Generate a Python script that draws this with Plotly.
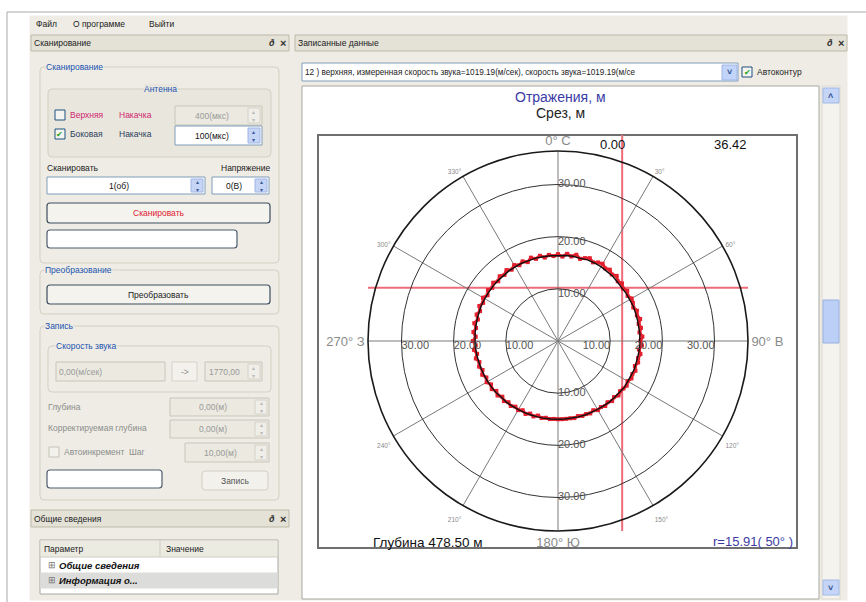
import numpy as np
import plotly.graph_objects as go

# ---------------------------------------------------------------- data
R_MAX = 36.42                      # outer ring of the polar grid, m
RING_VALUES = [10, 20, 30]
RING_LABELS = ["10.00", "20.00", "30.00"]

ANGLE_TICKS = [0, 30, 60, 90, 120, 150, 180, 210, 240, 270, 300, 330]
ANGLE_LABELS = ["0° С", "30°", "60°", "90° В", "120°", "150°",
                "180° Ю", "210°", "240°", "270° З", "300°", "330°"]

# measured reflections, every 3 degrees (clockwise from north)
refl_theta = list(range(0, 360, 3))
refl_r = [16.6, 16.2, 16.8, 16.4, 16.9, 16.3, 16.7, 17.0, 16.5, 16.9,
          17.1, 16.6, 16.9, 16.4, 16.8, 16.2, 16.5, 16.0, 16.4, 15.9,
          16.3, 16.1, 15.8, 16.2, 15.9, 16.3, 15.8, 16.1, 15.7, 16.2,
          15.8, 16.1, 15.6, 16.0, 15.7, 15.9, 15.5, 15.9, 15.6, 15.8,
          15.4, 15.7, 15.5, 15.3, 15.6, 15.2, 15.5, 15.1, 15.4, 15.1,
          15.3, 14.9, 15.2, 15.0, 15.1, 14.9, 15.1, 15.0, 15.0, 15.0,
          15.0, 14.95, 15.05, 14.9, 15.1, 14.8, 15.2, 14.9, 15.3, 14.9,
          15.3, 15.0, 15.4, 15.1, 15.5, 15.1, 15.6, 15.2, 15.7, 15.3,
          15.8, 15.4, 15.9, 15.5, 15.9, 15.6, 16.1, 15.7, 16.2, 15.8,
          16.3, 15.8, 16.3, 15.9, 16.4, 15.9, 16.4, 16.0, 16.5, 16.1,
          16.6, 16.1, 16.6, 16.2, 16.7, 16.2, 16.7, 16.3, 16.8, 16.3,
          16.8, 16.3, 16.7, 16.2, 16.8, 16.3, 16.7, 16.2, 16.6, 16.3]

# contour (slice) traced through the reflections, every 5 degrees
cut_theta = list(range(0, 360, 5))
cut_r = [16.35, 16.45, 16.5, 16.4, 16.55, 16.5, 16.45, 16.3, 16.25, 16.05,
         15.91, 15.95, 15.85, 15.9, 15.8, 15.75, 15.7, 15.75, 15.65, 15.7,
         15.6, 15.55, 15.6, 15.5, 15.45, 15.5, 15.35, 15.3, 15.3, 15.2,
         15.15, 15.1, 15.1, 15.05, 15.0, 15.0, 15.0, 15.0, 15.05, 15.05,
         15.1, 15.15, 15.2, 15.25, 15.35, 15.3, 15.45, 15.5, 15.55, 15.6,
         15.65, 15.7, 15.8, 15.85, 15.9, 15.95, 16.0, 16.05, 16.1, 16.2,
         16.2, 16.25, 16.3, 16.35, 16.3, 16.4, 16.4, 16.45, 16.4, 16.45,
         16.4, 16.4]

CURSOR_EAST = 12.3     # crosshair position, m
CURSOR_NORTH = 10.2
READ_LEFT = "0.00"
READ_RIGHT = "36.42"
DEPTH_TEXT = "Глубина 478.50 м"
PICK_R, PICK_ANGLE = 15.91, 50

# ---------------------------------------------------------------- layout helpers
W, H = 866, 602
CX, CY, RPX = 558, 341, 190            # polar centre and outer radius, px
FX0, FY0, FX1, FY1 = 318, 135, 797, 548  # chart frame, px
K = RPX / R_MAX                         # px per metre

APP_BG = "#eeece4"
UI_FONT = "Liberation Sans, Arial, sans-serif"


def X(p):
    return p / W


def Y(p):
    return 1 - p / H


shapes = []
notes = []


def rect(x0, y0, x1, y1, fill="rgba(0,0,0,0)", line="#999", lw=1):
    shapes.append(dict(type="rect", xref="paper", yref="paper",
                       x0=X(x0), y0=Y(y1), x1=X(x1), y1=Y(y0),
                       fillcolor=fill, line=dict(color=line, width=lw),
                       layer="below"))


def rrect(x0, y0, x1, y1, fill="rgba(0,0,0,0)", line="#999", lw=1, r=3):
    p = (f"M{X(x0 + r)},{Y(y0)} L{X(x1 - r)},{Y(y0)} Q{X(x1)},{Y(y0)} {X(x1)},{Y(y0 + r)} "
         f"L{X(x1)},{Y(y1 - r)} Q{X(x1)},{Y(y1)} {X(x1 - r)},{Y(y1)} "
         f"L{X(x0 + r)},{Y(y1)} Q{X(x0)},{Y(y1)} {X(x0)},{Y(y1 - r)} "
         f"L{X(x0)},{Y(y0 + r)} Q{X(x0)},{Y(y0)} {X(x0 + r)},{Y(y0)} Z")
    shapes.append(dict(type="path", xref="paper", yref="paper", path=p,
                       fillcolor=fill, line=dict(color=line, width=lw),
                       layer="below"))


def hline(x0, x1, y, color="#aaa", lw=1):
    shapes.append(dict(type="line", xref="paper", yref="paper",
                       x0=X(x0), x1=X(x1), y0=Y(y), y1=Y(y),
                       line=dict(color=color, width=lw), layer="below"))


def vline(x, y0, y1, color="#aaa", lw=1):
    shapes.append(dict(type="line", xref="paper", yref="paper",
                       x0=X(x), x1=X(x), y0=Y(y0), y1=Y(y1),
                       line=dict(color=color, width=lw), layer="below"))


def txt(x, y, s, size=9, color="#222", anchor="left", bg=None, family=UI_FONT):
    d = dict(x=X(x), y=Y(y), xref="paper", yref="paper", text=s,
             showarrow=False, xanchor=anchor, yanchor="middle",
             font=dict(size=size, color=color, family=family), borderpad=0)
    if bg:
        d["bgcolor"] = bg
    notes.append(d)


def spin(x0, y0, x1, y1, label, enabled=True, cx=None):
    rect(x0, y0, x1, y1, fill="#ffffff" if enabled else "#ebe9e0",
         line="#7f9db9" if enabled else "#c9c7bb")
    bx0 = x1 - 14
    rect(bx0, y0 + 2, x1 - 2, y1 - 2,
         fill="#c6d5f6" if enabled else "#efeee8",
         line="#9fb6e6" if enabled else "#d4d2c8")
    txt((bx0 + x1 - 2) / 2, (y0 + y1) / 2, "▴<br>▾", size=6,
        color="#3a5a9a" if enabled else "#b8b8b8", anchor="center")
    txt(cx if cx else (x0 + bx0) / 2, (y0 + y1) / 2, label, size=8.5,
        color="#111" if enabled else "#9a9a9a", anchor="center")


def checkbox(x0, y0, checked, enabled=True):
    rect(x0, y0, x0 + 10, y0 + 10, fill="#f4f4f0" if enabled else "#f2f1ec",
         line="#1c5180" if enabled else "#c5c2b5")
    if checked:
        txt(x0 + 5, y0 + 5, "✔", size=8, color="#21a121", anchor="center")


def button(x0, y0, x1, y1, label, color="#222"):
    rrect(x0, y0, x1, y1, fill="#f4f3ee", line="#3d4e60", lw=1.2, r=3)
    txt((x0 + x1) / 2, (y0 + y1) / 2, label, size=8.5, color=color, anchor="center")


def group(x0, y0, x1, y1, title, tx, center=False, fill="rgba(0,0,0,0)"):
    rrect(x0, y0, x1, y1, fill=fill, line="#d3d0c2", lw=1, r=4)
    txt(tx, y0, title, size=8.5, color="#2153b0",
        anchor="center" if center else "left", bg=fill if fill != "rgba(0,0,0,0)" else APP_BG)


def dock_header(x0, x1, y0, y1, title):
    rect(x0, y0, x1, y1, fill="#e4e1d6", line="#bdb9aa")
    txt(x0 + 2, (y0 + y1) / 2, title, size=8.5, color="#222")
    txt(x1 - 17, (y0 + y1) / 2, "<b><i>ð</i></b>", size=9, color="#333", anchor="center")
    txt(x1 - 6, (y0 + y1) / 2, "<b>×</b>", size=11, color="#333", anchor="center")


# ---------------------------------------------------------------- window chrome
vline(7, 12, 602, color="#a9a9a9")
hline(7, 866, 12, color="#a9a9a9")
rect(30, 16, 847, 600, fill=APP_BG, line=APP_BG)

txt(35, 24, "Файл", size=8.5)
txt(72, 24, "О программе", size=8.5)
txt(148, 24, "Выйти", size=8.5)

# left dock: scanning
dock_header(31, 289, 35, 51, "Сканирование")
group(40, 67, 279, 263, "Сканирование", 45)
group(48, 89, 271, 157, "Антенна", 160, center=True, fill="#e9e7dd")
checkbox(55, 110, False)
txt(69, 115, "Верхняя", size=8.5, color="#d0246e")
txt(118, 115, "Накачка", size=8.5, color="#d0246e")
spin(175, 106, 262, 125, "400(мкс)", enabled=False)
checkbox(55, 129, True)
txt(69, 134, "Боковая", size=8.5, color="#2b3d5c")
txt(118, 134, "Накачка", size=8.5, color="#2b3d5c")
spin(175, 126, 262, 145, "100(мкс)")
txt(46, 168, "Сканировать", size=8.5)
txt(272, 168, "Напряжение", size=8.5, anchor="right")
spin(47, 177, 205, 194, "1(об)")
spin(212, 177, 269, 194, "0(В)")
button(47, 203, 270, 223, "Сканировать", color="#e0202e")
rrect(47, 230, 237, 248, fill="#ffffff", line="#4d5d6e", lw=1.2, r=3)

group(40, 270, 279, 314, "Преобразование", 44)
button(47, 285, 270, 304, "Преобразовать")

group(40, 326, 279, 500, "Запись", 44)
group(48, 346, 271, 392, "Скорость звука", 55)
rect(56, 362, 165, 381, fill="#ebe9e0", line="#c9c7bb")
txt(58, 371.5, "0,00(м/сек)", size=8.5, color="#9a9a9a")
rect(172, 362, 197, 381, fill="#f2f1ec", line="#d4d2c8")
txt(184.5, 371.5, "->", size=8.5, color="#8a8a8a", anchor="center")
spin(205, 362, 262, 381, "1770,00", enabled=False, cx=224)
txt(47, 407, "Глубина", size=8.5, color="#8c8c8c")
spin(170, 398, 269, 416, "0,00(м)", enabled=False)
txt(47, 428, "Корректируемая глубина", size=8.5, color="#8c8c8c")
spin(170, 420, 269, 438, "0,00(м)", enabled=False)
checkbox(49, 447, False, enabled=False)
txt(63, 452, "Автоинкремент  Шаг", size=8.5, color="#8c8c8c")
spin(185, 443, 269, 462, "10,00(м)", enabled=False)
rrect(47, 470, 162, 488, fill="#ffffff", line="#4d5d6e", lw=1.2, r=3)
rrect(202, 471, 268, 490, fill="#f2f1ec", line="#d0cec3", lw=1, r=3)
txt(235, 480.5, "Запись", size=8.5, color="#555", anchor="center")

# left dock: general information
dock_header(31, 289, 510, 527, "Общие сведения")
rect(40, 540, 278, 594, fill="#ffffff", line="#a8a8a0")
rect(40, 540, 278, 557, fill="#ecebe2", line="#cfcdc2")
vline(160, 540, 557, color="#cfcdc2")
txt(43, 549, "Параметр", size=8.5)
txt(165, 549, "Значение", size=8.5)
rect(41, 573, 277, 588, fill="#dcdcda", line="#dcdcda")
txt(47, 565, "⊞", size=9, color="#777")
txt(58, 565, "<b><i>Общие сведения</i></b>", size=9.5, color="#111")
txt(47, 580, "⊞", size=9, color="#777")
txt(58, 580, "<b><i>Информация о...</i></b>", size=9.5, color="#111")

# right dock: recorded data
dock_header(295, 847, 35, 51, "Записанные данные")
rect(302, 63, 738, 81, fill="#ffffff", line="#7f9db9")
txt(304, 72, "12 ) верхняя, измеренная скорость звука=1019.19(м/сек), скорость звука=1019.19(м/се",
    size=8.2, color="#222")
rect(722, 65, 737, 80, fill="#c3d4fa", line="#9fb6e6")
txt(729.5, 72, "<b>˅</b>", size=9, color="#2a4a8a", anchor="center")
checkbox(742, 67, True)
txt(756, 72, "Автоконтур", size=8.5)

rect(302, 86, 819, 599, fill="#ffffff", line="#a8a8a0")
rect(822, 86, 840, 599, fill="#f4f3ee", line="#dcdad0")
rect(823, 88, 839, 103, fill="#c5d5f7", line="#a2b8e6")
txt(831, 95.5, "<b>˄</b>", size=9, color="#2a4a8a", anchor="center")
rect(823, 300, 839, 343, fill="#bcd0f7", line="#98b0e0")
rect(823, 580, 839, 595, fill="#c5d5f7", line="#a2b8e6")
txt(831, 587.5, "<b>˅</b>", size=9, color="#2a4a8a", anchor="center")

# chart frame
rect(FX0, FY0, FX1, FY1, line="#6f6f6f", lw=2)

# chart titles and readouts
CHART_FONT = "Liberation Sans, Arial, sans-serif"
txt(560, 97, "Отражения, м", size=14, color="#3b3ba6", anchor="center", family=CHART_FONT)
txt(560, 113, "Срез, м", size=14, color="#222", anchor="center", family=CHART_FONT)
txt(612, 145, READ_LEFT, size=13, color="#111", anchor="center", family=CHART_FONT)
txt(730, 145, READ_RIGHT, size=13, color="#111", anchor="center", family=CHART_FONT)
txt(428, 542, DEPTH_TEXT, size=13.5, color="#111", anchor="center", family=CHART_FONT)
txt(794, 541, f"r={PICK_R:.2f}( {PICK_ANGLE}° )", size=13, color="#3b3ba6",
    anchor="right", family=CHART_FONT)

# ---------------------------------------------------------------- figure
fig = go.Figure()

# crosshair on a cartesian overlay that shares the polar scale (metres)
x_rng = [(FX0 - CX) / K, (FX1 - CX) / K]
y_rng = [(CY - FY1) / K, (CY - FY0) / K]
fig.add_trace(go.Scatter(x=[CURSOR_EAST, CURSOR_EAST], y=[-R_MAX, y_rng[1]],
                         mode="lines", line=dict(color="#ee6b7a", width=2),
                         hoverinfo="skip", showlegend=False))
fig.add_trace(go.Scatter(x=[-R_MAX, R_MAX], y=[CURSOR_NORTH, CURSOR_NORTH],
                         mode="lines", line=dict(color="#ee6b7a", width=2),
                         hoverinfo="skip", showlegend=False))

# reflections and traced contour
fig.add_trace(go.Scatterpolar(r=refl_r + refl_r[:1], theta=refl_theta + refl_theta[:1],
                              mode="lines+markers",
                              line=dict(color="#e4202e", width=3),
                              marker=dict(size=4, color="#e4202e", symbol="square"),
                              name="Отражения", showlegend=False))
fig.add_trace(go.Scatterpolar(r=cut_r + cut_r[:1], theta=cut_theta + cut_theta[:1],
                              mode="lines", line=dict(color="#111111", width=1.4),
                              name="Срез", showlegend=False))

# ring value labels along the four main directions
lab_r, lab_t, lab_txt, lab_pos = [], [], [], []
for v, s in zip(RING_VALUES, RING_LABELS):
    for ang, pos in [(0, "bottom right" if v < 30 else "middle right"),
                     (180, "middle right"),
                     (90, "bottom left"), (270, "bottom right")]:
        lab_r.append(v)
        lab_t.append(ang)
        lab_txt.append(s)
        lab_pos.append(pos)
fig.add_trace(go.Scatterpolar(r=lab_r, theta=lab_t, text=lab_txt, mode="text",
                              textposition=lab_pos,
                              textfont=dict(size=11, color="#555", family=CHART_FONT),
                              hoverinfo="skip", showlegend=False))

tick_text = []
for s in ANGLE_LABELS:
    if " " in s:
        tick_text.append(s)
    else:
        tick_text.append(f'<span style="font-size:6.5px">{s}</span>')

fig.update_layout(
    width=W, height=H,
    margin=dict(l=0, r=0, t=0, b=0),
    paper_bgcolor="#ffffff",
    plot_bgcolor="rgba(0,0,0,0)",
    font=dict(family=CHART_FONT),
    xaxis=dict(domain=[X(FX0), X(FX1)], range=x_rng, visible=False, fixedrange=True),
    yaxis=dict(domain=[Y(FY1), Y(FY0)], range=y_rng, visible=False, fixedrange=True),
    polar=dict(
        domain=dict(x=[X(CX - RPX), X(CX + RPX)], y=[Y(CY + RPX), Y(CY - RPX)]),
        bgcolor="rgba(0,0,0,0)",
        radialaxis=dict(range=[0, R_MAX], tickvals=RING_VALUES, showticklabels=False,
                        ticks="", showline=False, gridcolor="#333333", gridwidth=1),
        angularaxis=dict(rotation=90, direction="clockwise",
                         tickvals=ANGLE_TICKS, ticktext=tick_text, ticks="",
                         tickfont=dict(size=13, color="#8a8a8a", family=CHART_FONT),
                         showline=True, linecolor="#1a1a1a", linewidth=1.6,
                         gridcolor="#7a7a7a", gridwidth=1),
    ),
    shapes=shapes,
    annotations=notes,
)

fig.write_html("out.html")
